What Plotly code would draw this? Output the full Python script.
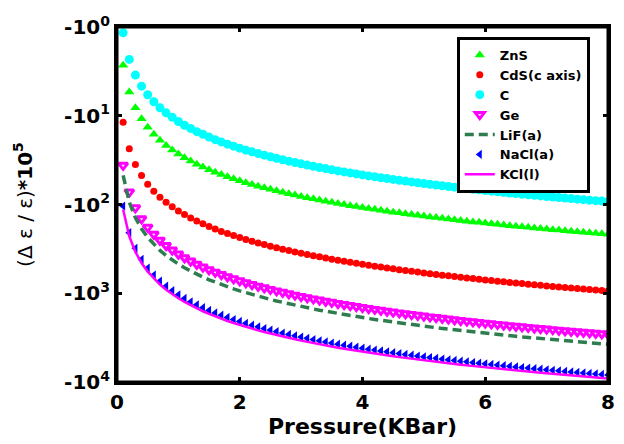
import plotly.graph_objects as go

# Pressure (KBar)
pressure = [0.1, 0.2, 0.3, 0.4, 0.5, 0.6, 0.7, 0.8, 0.9, 1.0,
            1.1, 1.2, 1.3, 1.4, 1.5, 1.6, 1.7, 1.8, 1.9, 2.0,
            2.1, 2.2, 2.3, 2.4, 2.5, 2.6, 2.7, 2.8, 2.9, 3.0,
            3.1, 3.2, 3.3, 3.4, 3.5, 3.6, 3.7, 3.8, 3.9, 4.0,
            4.1, 4.2, 4.3, 4.4, 4.5, 4.6, 4.7, 4.8, 4.9, 5.0,
            5.1, 5.2, 5.3, 5.4, 5.5, 5.6, 5.7, 5.8, 5.9, 6.0,
            6.1, 6.2, 6.3, 6.4, 6.5, 6.6, 6.7, 6.8, 6.9, 7.0,
            7.1, 7.2, 7.3, 7.4, 7.5, 7.6, 7.7, 7.8, 7.9, 8.0]

# (Δε/ε)*10^5 values (negative)
zns = [-2.70, -5.40, -8.10, -10.8, -13.5, -16.2, -18.9, -21.6, -24.3, -27.0,
       -29.7, -32.4, -35.1, -37.8, -40.5, -43.2, -45.9, -48.6, -51.3, -54.0,
       -56.7, -59.4, -62.1, -64.8, -67.5, -70.2, -72.9, -75.6, -78.3, -81.0,
       -83.7, -86.4, -89.1, -91.8, -94.5, -97.2, -99.9, -103, -105, -108,
       -111, -113, -116, -119, -122, -124, -127, -130, -132, -135,
       -138, -140, -143, -146, -149, -151, -154, -157, -159, -162,
       -165, -167, -170, -173, -176, -178, -181, -184, -186, -189,
       -192, -194, -197, -200, -203, -205, -208, -211, -213, -216]

cds = [-11.8, -23.6, -35.4, -47.2, -59.0, -70.8, -82.6, -94.4, -106, -118,
       -130, -142, -153, -165, -177, -189, -201, -212, -224, -236,
       -248, -260, -271, -283, -295, -307, -319, -330, -342, -354,
       -366, -378, -389, -401, -413, -425, -437, -448, -460, -472,
       -484, -496, -507, -519, -531, -543, -555, -566, -578, -590,
       -602, -614, -625, -637, -649, -661, -673, -684, -696, -708,
       -720, -732, -743, -755, -767, -779, -791, -802, -814, -826,
       -838, -850, -861, -873, -885, -897, -909, -920, -932, -944]

carbon = [-1.16, -2.32, -3.48, -4.64, -5.80, -6.96, -8.12, -9.28, -10.4, -11.6,
          -12.8, -13.9, -15.1, -16.2, -17.4, -18.6, -19.7, -20.9, -22.0, -23.2,
          -24.4, -25.5, -26.7, -27.8, -29.0, -30.2, -31.3, -32.5, -33.6, -34.8,
          -36.0, -37.1, -38.3, -39.4, -40.6, -41.8, -42.9, -44.1, -45.2, -46.4,
          -47.6, -48.7, -49.9, -51.0, -52.2, -53.4, -54.5, -55.7, -56.8, -58.0,
          -59.2, -60.3, -61.5, -62.6, -63.8, -65.0, -66.1, -67.3, -68.4, -69.6,
          -70.8, -71.9, -73.1, -74.2, -75.4, -76.6, -77.7, -78.9, -80.0, -81.2,
          -82.4, -83.5, -84.7, -85.8, -87.0, -88.2, -89.3, -90.5, -91.6, -92.8]

ge = [-36.2, -72.4, -109, -145, -181, -217, -253, -290, -326, -362,
      -398, -434, -471, -507, -543, -579, -615, -652, -688, -724,
      -760, -796, -833, -869, -905, -941, -977, -1014, -1050, -1086,
      -1122, -1158, -1195, -1231, -1267, -1303, -1339, -1376, -1412, -1448,
      -1484, -1520, -1557, -1593, -1629, -1665, -1701, -1738, -1774, -1810,
      -1846, -1882, -1919, -1955, -1991, -2027, -2063, -2100, -2136, -2172,
      -2208, -2244, -2281, -2317, -2353, -2389, -2425, -2462, -2498, -2534,
      -2570, -2606, -2643, -2679, -2715, -2751, -2787, -2824, -2860, -2896]

lif = [-47, -94, -141, -188, -235, -282, -329, -376, -423, -470,
       -517, -564, -611, -658, -705, -752, -799, -846, -893, -940,
       -987, -1034, -1081, -1128, -1175, -1222, -1269, -1316, -1363, -1410,
       -1457, -1504, -1551, -1598, -1645, -1692, -1739, -1786, -1833, -1880,
       -1927, -1974, -2021, -2068, -2115, -2162, -2209, -2256, -2303, -2350,
       -2397, -2444, -2491, -2538, -2585, -2632, -2679, -2726, -2773, -2820,
       -2867, -2914, -2961, -3008, -3055, -3102, -3149, -3196, -3243, -3290,
       -3337, -3384, -3431, -3478, -3525, -3572, -3619, -3666, -3713, -3760]

nacl = [-104, -208, -312, -416, -520, -624, -728, -832, -936, -1040,
        -1144, -1248, -1352, -1456, -1560, -1664, -1768, -1872, -1976, -2080,
        -2184, -2288, -2392, -2496, -2600, -2704, -2808, -2912, -3016, -3120,
        -3224, -3328, -3432, -3536, -3640, -3744, -3848, -3952, -4056, -4160,
        -4264, -4368, -4472, -4576, -4680, -4784, -4888, -4992, -5096, -5200,
        -5304, -5408, -5512, -5616, -5720, -5824, -5928, -6032, -6136, -6240,
        -6344, -6448, -6552, -6656, -6760, -6864, -6968, -7072, -7176, -7280,
        -7384, -7488, -7592, -7696, -7800, -7904, -8008, -8112, -8216, -8320]

kcl = [-114, -228, -342, -456, -570, -684, -798, -912, -1026, -1140,
       -1254, -1368, -1482, -1596, -1710, -1824, -1938, -2052, -2166, -2280,
       -2394, -2508, -2622, -2736, -2850, -2964, -3078, -3192, -3306, -3420,
       -3534, -3648, -3762, -3876, -3990, -4104, -4218, -4332, -4446, -4560,
       -4674, -4788, -4902, -5016, -5130, -5244, -5358, -5472, -5586, -5700,
       -5814, -5928, -6042, -6156, -6270, -6384, -6498, -6612, -6726, -6840,
       -6954, -7068, -7182, -7296, -7410, -7524, -7638, -7752, -7866, -7980,
       -8094, -8208, -8322, -8436, -8550, -8664, -8778, -8892, -9006, -9120]

series_names = ["ZnS", "CdS(c axis)", "C", "Ge", "LiF(a)", "NaCl(a)", "KCl(l)"]
ytick_vals = [1, 10, 100, 1000, 10000]
ytick_text = ["-10<sup>0</sup>", "-10<sup>1</sup>", "-10<sup>2</sup>",
              "-10<sup>3</sup>", "-10<sup>4</sup>"]
xtick_vals = [0, 2, 4, 6, 8]


def mag(v):
    return [-a for a in v]


fig = go.Figure()
fig.add_trace(go.Scatter(x=pressure, y=mag(zns), name=series_names[0], mode="markers",
                         marker=dict(symbol="triangle-up", size=9, color="#00FF00")))
fig.add_trace(go.Scatter(x=pressure, y=mag(cds), name=series_names[1], mode="markers",
                         marker=dict(symbol="circle", size=7, color="#FF0000")))
fig.add_trace(go.Scatter(x=pressure, y=mag(carbon), name=series_names[2], mode="markers",
                         marker=dict(symbol="circle", size=9, color="#00FFFF")))
fig.add_trace(go.Scatter(x=pressure, y=mag(ge), name=series_names[3], mode="markers",
                         marker=dict(symbol="triangle-down", size=8, color="white",
                                     line=dict(color="#FF00FF", width=3))))
fig.add_trace(go.Scatter(x=pressure, y=mag(lif), name=series_names[4], mode="lines",
                         line=dict(color="#2E7D4F", width=3.5, dash="9px,5px")))
fig.add_trace(go.Scatter(x=pressure, y=mag(nacl), name=series_names[5], mode="markers",
                         marker=dict(symbol="triangle-left", size=8, color="#0000FF")))
fig.add_trace(go.Scatter(x=pressure, y=mag(kcl), name=series_names[6], mode="lines",
                         line=dict(color="#FF00FF", width=2.5)))

axis_common = dict(showline=True, linecolor="black", linewidth=3, mirror="ticks",
                   ticks="inside", ticklen=5, tickwidth=3, tickcolor="black",
                   showgrid=False, zeroline=False, automargin=False,
                   tickfont=dict(family="DejaVu Sans", size=20, color="black", weight="bold"))

fig.update_xaxes(range=[0, 8], tickvals=xtick_vals,
                 title=dict(text="Pressure(KBar)", standoff=4,
                            font=dict(family="DejaVu Sans", size=22, color="black", weight="bold")),
                 **axis_common)
fig.update_yaxes(type="log", range=[4, 0], tickvals=ytick_vals, ticktext=ytick_text,
                 title=dict(text="(Δ ε / ε)<b>*10<sup>5</sup></b>", standoff=27,
                            font=dict(family="DejaVu Sans", size=20, color="black")),
                 **axis_common)

# plot frame
fig.add_shape(type="rect", xref="paper", yref="paper", x0=0, x1=1, y0=0, y1=1,
              line=dict(color="black", width=3), layer="above")

fig.update_layout(
    template="none",
    width=624, height=444,
    margin=dict(l=117, r=16, t=27, b=62),
    paper_bgcolor="white", plot_bgcolor="white",
    legend=dict(x=0.692, y=0.972, xanchor="left", yanchor="top",
                bgcolor="white", bordercolor="black", borderwidth=3,
                tracegroupgap=0,
                font=dict(family="DejaVu Sans", size=13, color="black", weight="bold")),
)

fig.write_html("out.html", config={"displayModeBar": False},
               post_script="document.body.style.margin='0px';")
